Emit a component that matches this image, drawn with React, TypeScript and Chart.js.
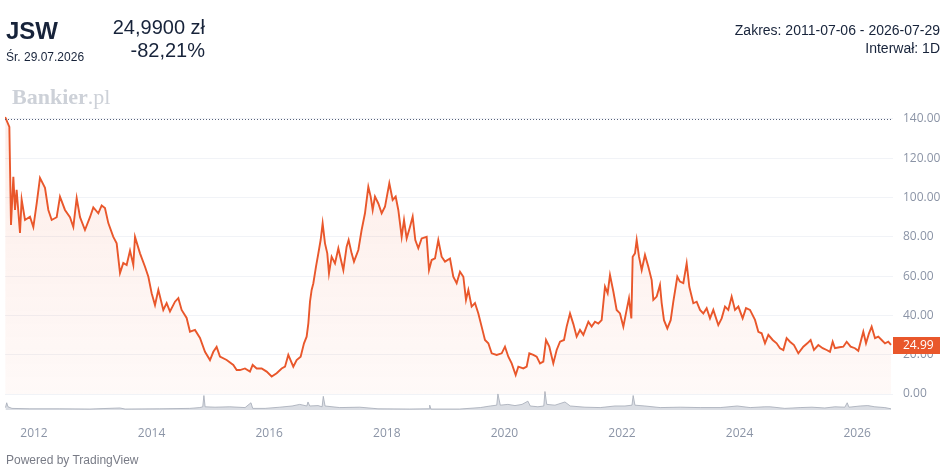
import React, { useEffect, useRef } from "react";
import { Chart, registerables } from "chart.js";

Chart.register(...registerables);

// ---- data (decimal year, price in PLN) ----
const priceTimes = [
  2011.51, 2011.581, 2011.609, 2011.649, 2011.677, 2011.705, 2011.762, 2011.79, 2011.847, 2011.932, 2011.989,
  2012.046, 2012.102, 2012.187, 2012.244, 2012.301, 2012.386, 2012.442, 2012.527, 2012.612, 2012.669, 2012.726, 2012.783, 2012.867, 2012.952,
  2013.009, 2013.094, 2013.151, 2013.207, 2013.264, 2013.349, 2013.406, 2013.463, 2013.519, 2013.576, 2013.633, 2013.689, 2013.718, 2013.803, 2013.888, 2013.945,
  2014.001, 2014.058, 2014.115, 2014.199, 2014.256, 2014.313, 2014.398, 2014.455, 2014.511, 2014.596, 2014.653, 2014.738, 2014.823, 2014.908, 2014.993,
  2015.05, 2015.106, 2015.163, 2015.277, 2015.39, 2015.447, 2015.503, 2015.588, 2015.673, 2015.719, 2015.787, 2015.872, 2015.957,
  2016.042, 2016.127, 2016.212, 2016.269, 2016.325, 2016.41, 2016.467, 2016.535, 2016.592, 2016.637, 2016.666, 2016.694, 2016.722, 2016.751, 2016.796, 2016.836, 2016.875, 2016.909, 2016.949, 2016.988,
  2017.017, 2017.062, 2017.119, 2017.176, 2017.215, 2017.261, 2017.317, 2017.351, 2017.402, 2017.442, 2017.516, 2017.572, 2017.629, 2017.686, 2017.726, 2017.76, 2017.799, 2017.856, 2017.913, 2017.969,
  2018.043, 2018.1, 2018.151, 2018.196, 2018.253, 2018.293, 2018.338, 2018.395, 2018.44, 2018.485, 2018.536, 2018.593, 2018.678, 2018.718, 2018.763, 2018.82, 2018.876, 2018.933, 2018.99,
  2019.075, 2019.131, 2019.188, 2019.245, 2019.302, 2019.347, 2019.387, 2019.443, 2019.5, 2019.557, 2019.613, 2019.67, 2019.727, 2019.784, 2019.869, 2019.954,
  2020.01, 2020.067, 2020.124, 2020.192, 2020.237, 2020.322, 2020.379, 2020.424, 2020.492, 2020.549, 2020.606, 2020.662, 2020.708, 2020.764, 2020.832, 2020.889, 2020.946,
  2021.014, 2021.059, 2021.116, 2021.172, 2021.229, 2021.286, 2021.343, 2021.428, 2021.484, 2021.541, 2021.598, 2021.654, 2021.711, 2021.756, 2021.796, 2021.853, 2021.909, 2021.966,
  2022.023, 2022.079, 2022.119, 2022.159, 2022.182, 2022.221, 2022.25, 2022.289, 2022.335, 2022.391, 2022.448, 2022.505, 2022.533, 2022.59, 2022.646, 2022.675, 2022.714, 2022.771, 2022.828, 2022.873, 2022.941, 2022.986,
  2023.043, 2023.1, 2023.145, 2023.213, 2023.27, 2023.327, 2023.383, 2023.44, 2023.497, 2023.553, 2023.638, 2023.695, 2023.752, 2023.808, 2023.865, 2023.922, 2023.979,
  2024.052, 2024.109, 2024.177, 2024.262, 2024.319, 2024.375, 2024.432, 2024.489, 2024.563, 2024.63, 2024.687, 2024.744, 2024.8, 2024.857, 2024.925, 2024.999,
  2025.084, 2025.152, 2025.208, 2025.265, 2025.339, 2025.413, 2025.481, 2025.537, 2025.583, 2025.622, 2025.696, 2025.764, 2025.821, 2025.889, 2025.962,
  2026.019, 2026.059, 2026.104, 2026.15, 2026.201, 2026.246, 2026.303, 2026.359, 2026.416, 2026.473, 2026.529, 2026.575,
];

const prices = [
  141, 136, 86, 110.6, 93.7, 104, 82, 99, 88.6, 90.3, 85,
  97, 110, 105, 93.7, 88.6, 90, 100.5, 93.7, 90, 85, 99.7, 90, 83.5, 90,
  95, 92, 96, 94.7, 87, 80, 76.7, 61.6, 66.7, 65.7, 73, 65.7, 80, 71.6, 64.8, 59.7,
  51.3, 45.3, 53, 42.8, 46.3, 42, 47, 48.8, 42.8, 38.7, 31.7, 32.6, 28.5, 21.5, 17.3,
  21.5, 24, 19, 17.3, 14.8, 12.2, 12.2, 13, 11.4, 14.8, 13, 13, 11.4,
  8.9, 10.6, 13, 13.9, 19.9, 13.9, 17.3, 19, 25.8, 29.2, 36, 47, 53, 56.4, 64.8, 71.6, 78.4, 86.9, 76.7, 71.6,
  61.4, 69.9, 66.5, 74.2, 69, 63.1, 75, 78.4, 71.6, 67.4, 73.3, 83.5, 92, 105.5, 100.5, 93.7, 100.5, 97, 92, 95.3,
  107.3, 98.8, 100.5, 93.7, 80, 88.6, 79.2, 85.2, 90.3, 78.4, 74.2, 79.2, 80, 63.1, 68.2, 69, 78.4, 69.9, 67.4,
  69, 59.7, 56.4, 62.3, 59.7, 47.9, 53, 44.5, 46.3, 41, 34.3, 27.5, 25.8, 20.7, 19.9, 20.7,
  24.1, 19, 15.6, 9.7, 13.9, 13, 13.9, 20.7, 19.9, 19, 15.6, 16.5, 27.5, 24.1, 15.6, 22.4, 26.6,
  27.5, 34.3, 41, 35.7, 29.2, 32.6, 30.1, 36.8, 34.3, 36.8, 35.9, 37.6, 54.6, 51.3, 60.6, 52.2, 42.8, 41,
  34.3, 42.8, 48.7, 38.5, 69.9, 71.6, 78.4, 69.9, 63.1, 70.8, 64.8, 58, 47.9, 49.6, 55.5, 46.3, 37.6, 33.4, 37.6, 47, 59.7, 57.2,
  56.4, 66.5, 54.6, 46.2, 47, 42.8, 41, 43.7, 38.5, 42.8, 35.1, 38.5, 44.5, 42.8, 49.6, 42.8, 44.5,
  38.5, 43.7, 42.8, 37.7, 31.7, 30.9, 25.8, 30.1, 27.5, 25.8, 23.3, 22.4, 28.4, 26.6, 24.9, 20.7,
  24.1, 25.8, 27.5, 22.4, 24.9, 23.3, 22.4, 21.5, 26.6, 23.3, 23.8, 24.1, 26.6, 24.1, 23.3,
  22, 26.6, 31.7, 25.8, 30.9, 34.3, 28.4, 29.2, 27.5, 25.8, 26.6, 24.99,
];

// volume (mln shares)
const volumeTimes = [
  2011.515, 2011.536, 2011.558, 2011.626, 2011.93, 2012.44, 2012.95, 2013.46, 2013.55, 2014.14, 2014.65, 2014.82, 2014.87, 2014.89, 2014.91,
  2015.08, 2015.33, 2015.59, 2015.69, 2015.72, 2015.93, 2016.18, 2016.39, 2016.52, 2016.64, 2016.66, 2016.69, 2016.83, 2016.9, 2016.92, 2016.95,
  2017.2, 2017.54, 2017.85, 2018.39, 2018.72, 2018.73, 2018.75, 2019.24, 2019.59, 2019.76, 2019.87, 2019.89, 2019.93,
  2020.06, 2020.18, 2020.3, 2020.4, 2020.44, 2020.57, 2020.67, 2020.69, 2020.72, 2020.86, 2021.03, 2021.12, 2021.37, 2021.63, 2021.88,
  2022.05, 2022.17, 2022.19, 2022.22, 2022.39, 2022.65, 2022.99, 2023.33, 2023.67, 2023.96, 2024.18, 2024.43, 2024.52, 2024.77,
  2025.03, 2025.23, 2025.45, 2025.62, 2025.79, 2025.83, 2025.86, 2026.05, 2026.18, 2026.3, 2026.47, 2026.575,
];
const volumes = [
  0.3, 0.9, 0.4, 0.2, 0.15, 0.15, 0.12, 0.25, 0.12, 0.15, 0.2, 0.3, 0.4, 1.8, 0.4,
  0.35, 0.4, 0.3, 0.9, 0.2, 0.2, 0.35, 0.5, 0.7, 0.5, 1.0, 0.5, 0.55, 0.4, 1.7, 0.5,
  0.3, 0.35, 0.15, 0.12, 0.15, 0.6, 0.12, 0.12, 0.3, 0.5, 0.6, 2.0, 0.6,
  0.7, 0.55, 0.7, 1.1, 0.5, 0.4, 0.5, 2.3, 0.7, 0.6, 1.0, 0.5, 0.35, 0.3, 0.5,
  0.5, 0.6, 1.8, 0.6, 0.5, 0.3, 0.35, 0.3, 0.3, 0.5, 0.3, 0.4, 0.4, 0.2,
  0.3, 0.35, 0.25, 0.4, 0.35, 0.9, 0.35, 0.5, 0.55, 0.4, 0.3, 0.15,
];

const yTicks = [0, 20, 40, 60, 80, 100, 120, 140];
const xTicks = [2012, 2014, 2016, 2018, 2020, 2022, 2024, 2026];
const basePrice = 140;

const ORANGE = "#e9572b";
const AXIS_TXT = "#8b94a6";

const lastPricePlugin = {
  id: "lastPrice",
  afterDraw(chart: any) {
    const { ctx, chartArea, scales } = chart;
    // dotted base line
    const yb = scales.y.getPixelForValue(basePrice);
    ctx.save();
    ctx.strokeStyle = "#56617a";
    ctx.lineWidth = 1;
    ctx.setLineDash([1, 2]);
    ctx.beginPath();
    ctx.moveTo(chartArea.left, Math.round(yb) + 0.5);
    ctx.lineTo(chartArea.right, Math.round(yb) + 0.5);
    ctx.stroke();
    ctx.setLineDash([]);
    // last price tag
    const last = prices[prices.length - 1];
    const y = scales.y.getPixelForValue(last);
    ctx.fillStyle = ORANGE;
    ctx.fillRect(chartArea.right, Math.round(y) - 8, 47, 17);
    ctx.fillStyle = "#ffffff";
    ctx.font = "12px 'Open Sans'";
    ctx.textBaseline = "middle";
    ctx.textAlign = "left";
    ctx.fillText(last.toFixed(2), chartArea.right + 10, Math.round(y) + 0.5);
    ctx.restore();
  },
};

function PriceChart() {
  const ref = useRef<HTMLCanvasElement>(null);
  useEffect(() => {
    document.body.style.margin = "0";
    const canvas = ref.current!;
    const priceData = priceTimes.map((t, i) => ({ x: t, y: prices[i] }));
    const volData = volumeTimes.map((t, i) => ({ x: t, y: volumes[i] }));
    const chart = new Chart(canvas, {
      type: "line",
      data: {
        datasets: [
          {
            data: priceData,
            borderColor: ORANGE,
            borderWidth: 1.9,
            pointRadius: 0,
            tension: 0,
            fill: { value: 0 } as any,
            backgroundColor: (c: any) => {
              const { chart: ch } = c;
              const area = ch.chartArea;
              if (!area) return "rgba(240,100,60,0.06)";
              const g = ch.ctx.createLinearGradient(0, area.top, 0, area.bottom);
              g.addColorStop(0, "rgba(240,100,60,0.12)");
              g.addColorStop(1, "rgba(240,100,60,0.03)");
              return g;
            },
            yAxisID: "y",
            order: 0,
          },
          {
            data: volData,
            borderColor: "rgba(168,174,186,0.85)",
            backgroundColor: "rgba(190,195,205,0.55)",
            borderWidth: 1,
            pointRadius: 0,
            tension: 0,
            fill: "origin",
            yAxisID: "yv",
            order: 1,
          },
        ],
      },
      options: {
        responsive: false,
        animation: false,
        events: [],
        layout: { padding: { top: 105, left: 5, right: 0, bottom: 0 } },
        plugins: { legend: { display: false }, tooltip: { enabled: false } },
        scales: {
          x: {
            type: "linear",
            min: 2011.507,
            max: 2026.609,
            grid: { display: false },
            border: { display: false },
            afterBuildTicks: (s: any) => {
              s.ticks = xTicks.map((v) => ({ value: v }));
            },
            afterFit: (s: any) => {
              s.height = 59;
            },
            ticks: {
              color: AXIS_TXT,
              font: { family: "'Open Sans'", size: 12 },
              padding: 8,
              maxRotation: 0,
              autoSkip: false,
              callback: (v: any) => String(v),
            },
          },
          y: {
            position: "right",
            min: -8.145,
            max: 147.127,
            grid: { color: "#f1f3f7", drawTicks: false },
            border: { display: false },
            afterBuildTicks: (s: any) => {
              s.ticks = yTicks.map((v) => ({ value: v }));
            },
            afterFit: (s: any) => {
              s.width = 55;
            },
            ticks: {
              color: AXIS_TXT,
              font: { family: "'Open Sans'", size: 12 },
              padding: 10,
              callback: (v: any) => Number(v).toFixed(2),
            },
          },
          yv: {
            display: false,
            min: 0,
            max: 38,
          },
        },
      },
      plugins: [lastPricePlugin],
    });
    return () => chart.destroy();
  }, []);
  return (
    <canvas
      ref={ref}
      width={948}
      height={469}
      style={{ position: "absolute", left: 0, top: 0, width: 948, height: 469 }}
    />
  );
}

export default function App() {
  const dark = "#17233a";
  const sans = "'Liberation Sans', Arial, sans-serif";
  return (
    <div style={{ position: "relative", width: 948, height: 469, background: "#fff", overflow: "hidden", fontFamily: sans }}>
      <PriceChart />
      <div style={{ position: "absolute", left: 6, top: 16, fontSize: 24, fontWeight: 700, color: dark, lineHeight: "29px" }}>JSW</div>
      <div style={{ position: "absolute", left: 6, top: 49, fontSize: 12, color: dark, lineHeight: "16px" }}>Śr. 29.07.2026</div>
      <div style={{ position: "absolute", right: 948 - 205, top: 15, fontSize: 20, color: dark, lineHeight: "24px", textAlign: "right", whiteSpace: "nowrap" }}>24,9900 zł</div>
      <div style={{ position: "absolute", right: 948 - 205, top: 38, fontSize: 20, color: dark, lineHeight: "24px", textAlign: "right", whiteSpace: "nowrap" }}>-82,21%</div>
      <div style={{ position: "absolute", right: 8, top: 22, fontSize: 14, color: dark, lineHeight: "17px", textAlign: "right", whiteSpace: "nowrap" }}>Zakres: 2011-07-06 - 2026-07-29</div>
      <div style={{ position: "absolute", right: 8, top: 40, fontSize: 14, color: dark, lineHeight: "17px", textAlign: "right", whiteSpace: "nowrap" }}>Interwał: 1D</div>
      <div style={{ position: "absolute", left: 12, top: 83, fontSize: 22, color: "#cdd1d8", fontFamily: "'Liberation Serif', 'DejaVu Serif', serif", lineHeight: "27px", whiteSpace: "nowrap" }}>
        <span style={{ fontWeight: 700 }}>Bankier</span>
        <span>.pl</span>
      </div>
      <div style={{ position: "absolute", left: 6, top: 453, fontSize: 12, color: "#787b86", lineHeight: "15px", whiteSpace: "nowrap" }}>Powered by TradingView</div>
    </div>
  );
}
